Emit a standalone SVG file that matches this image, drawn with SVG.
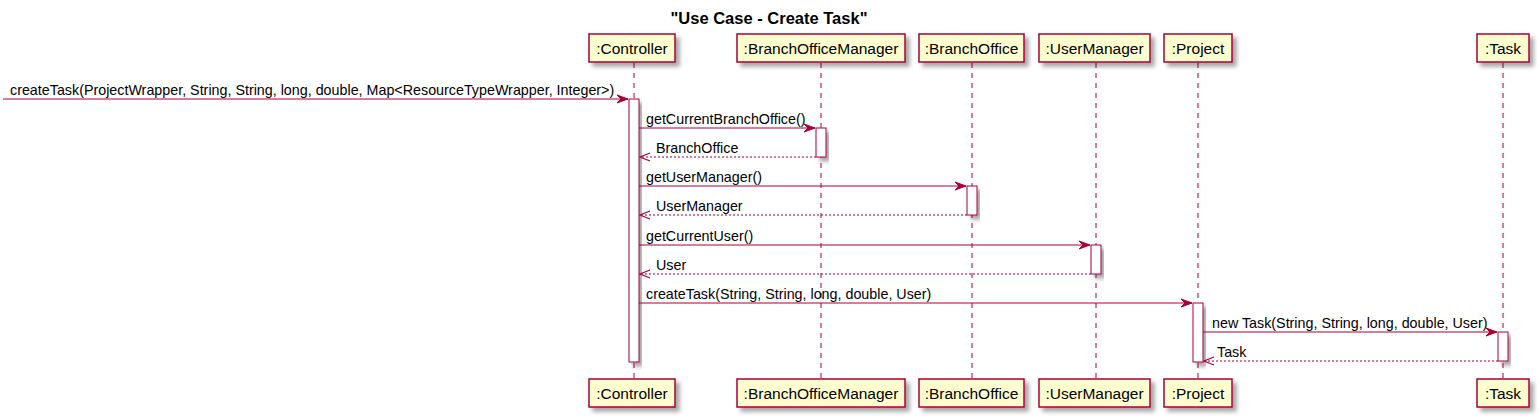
<svg xmlns="http://www.w3.org/2000/svg" width="1540" height="420" viewBox="0 0 1540 420">
<defs>
<filter id="sh" x="-20%" y="-20%" width="150%" height="150%">
<feGaussianBlur in="SourceAlpha" stdDeviation="2"/>
<feOffset dx="4" dy="4" result="b"/>
<feComponentTransfer><feFuncA type="linear" slope="0.35"/></feComponentTransfer>
<feMerge><feMergeNode/><feMergeNode in="SourceGraphic"/></feMerge>
</filter>
<marker id="af" viewBox="0 0 12 10" refX="11" refY="5" markerWidth="12" markerHeight="10" markerUnits="userSpaceOnUse" orient="auto">
<polygon points="0,1 11,5 0,9 4,5" fill="#A80036" stroke="#A80036" stroke-width="1"/>
</marker>
<marker id="ao" viewBox="0 0 12 10" refX="11" refY="5" markerWidth="12" markerHeight="10" markerUnits="userSpaceOnUse" orient="auto">
<polyline points="1,1 11,5 1,9" fill="none" stroke="#A80036" stroke-width="1.2"/>
</marker>
</defs>
<style>
.t{font-family:"Liberation Sans",Arial,sans-serif;font-size:14.3px;fill:#000}
.p{font-family:"Liberation Sans",Arial,sans-serif;font-size:15.5px;fill:#000}
.title{font-family:"Liberation Sans",Arial,sans-serif;font-size:16.5px;font-weight:bold;fill:#000}
.box{fill:#FEFECE;stroke:#A80036;stroke-width:1.5}
.life{stroke:#A80036;stroke-width:1;stroke-dasharray:5,5;fill:none}
.act{fill:#FFFFFF;stroke:#A80036;stroke-width:1}
.msg{stroke:#A80036;stroke-width:1;fill:none;marker-end:url(#af)}
.ret{stroke:#A80036;stroke-width:1;fill:none;stroke-dasharray:2,2;marker-end:url(#ao)}
</style>
<rect width="1540" height="420" fill="#FFFFFF"/>
<text class="title" x="769" y="24" text-anchor="middle">"Use Case - Create Task"</text>

<g id="lifelines">
<line class="life" x1="634" y1="63" x2="634" y2="378"/>
<line class="life" x1="821" y1="63" x2="821" y2="378"/>
<line class="life" x1="972" y1="63" x2="972" y2="378"/>
<line class="life" x1="1096" y1="63" x2="1096" y2="378"/>
<line class="life" x1="1198" y1="63" x2="1198" y2="378"/>
<line class="life" x1="1503" y1="63" x2="1503" y2="378"/>
</g>

<g id="controller">
<rect class="box" x="589" y="34" width="86" height="28" filter="url(#sh)"/>
<text class="p" x="632" y="54" text-anchor="middle">:Controller</text>
<rect class="box" x="589" y="379" width="86" height="28" filter="url(#sh)"/>
<text class="p" x="632" y="399" text-anchor="middle">:Controller</text>
<rect class="act" x="629" y="99" width="10" height="263" filter="url(#sh)"/>
</g>
<g id="branchOfficeManager">
<rect class="box" x="737" y="34" width="168" height="28" filter="url(#sh)"/>
<text class="p" x="821" y="54" text-anchor="middle">:BranchOfficeManager</text>
<rect class="box" x="737" y="379" width="168" height="28" filter="url(#sh)"/>
<text class="p" x="821" y="399" text-anchor="middle">:BranchOfficeManager</text>
<rect class="act" x="816" y="128" width="10" height="29" filter="url(#sh)"/>
</g>
<g id="branchOffice">
<rect class="box" x="919" y="34" width="105" height="28" filter="url(#sh)"/>
<text class="p" x="971.5" y="54" text-anchor="middle">:BranchOffice</text>
<rect class="box" x="919" y="379" width="105" height="28" filter="url(#sh)"/>
<text class="p" x="971.5" y="399" text-anchor="middle">:BranchOffice</text>
<rect class="act" x="967" y="186" width="10" height="29" filter="url(#sh)"/>
</g>
<g id="userManager">
<rect class="box" x="1039" y="34" width="111" height="28" filter="url(#sh)"/>
<text class="p" x="1094.5" y="54" text-anchor="middle">:UserManager</text>
<rect class="box" x="1039" y="379" width="111" height="28" filter="url(#sh)"/>
<text class="p" x="1094.5" y="399" text-anchor="middle">:UserManager</text>
<rect class="act" x="1091" y="245" width="10" height="29" filter="url(#sh)"/>
</g>
<g id="project">
<rect class="box" x="1164" y="34" width="68" height="28" filter="url(#sh)"/>
<text class="p" x="1198" y="54" text-anchor="middle">:Project</text>
<rect class="box" x="1164" y="379" width="68" height="28" filter="url(#sh)"/>
<text class="p" x="1198" y="399" text-anchor="middle">:Project</text>
<rect class="act" x="1193" y="303" width="10" height="59" filter="url(#sh)"/>
</g>
<g id="task">
<rect class="box" x="1477" y="34" width="52" height="28" filter="url(#sh)"/>
<text class="p" x="1503" y="54" text-anchor="middle">:Task</text>
<rect class="box" x="1477" y="379" width="52" height="28" filter="url(#sh)"/>
<text class="p" x="1503" y="399" text-anchor="middle">:Task</text>
<rect class="act" x="1498" y="332" width="10" height="29" filter="url(#sh)"/>
</g>

<g id="connectors">
<line class="msg" x1="3" y1="99" x2="628" y2="99"/>
<text class="t" x="10" y="95">createTask(ProjectWrapper, String, String, long, double, Map&lt;ResourceTypeWrapper, Integer&gt;)</text>
<line class="msg" x1="639" y1="128" x2="815" y2="128"/>
<text class="t" x="646" y="124">getCurrentBranchOffice()</text>
<line class="ret" x1="816" y1="157" x2="640" y2="157"/>
<text class="t" x="656" y="153">BranchOffice</text>
<line class="msg" x1="639" y1="186" x2="966" y2="186"/>
<text class="t" x="646" y="182">getUserManager()</text>
<line class="ret" x1="967" y1="215" x2="640" y2="215"/>
<text class="t" x="656" y="211">UserManager</text>
<line class="msg" x1="639" y1="245" x2="1090" y2="245"/>
<text class="t" x="646" y="241">getCurrentUser()</text>
<line class="ret" x1="1091" y1="274" x2="640" y2="274"/>
<text class="t" x="656" y="270">User</text>
<line class="msg" x1="639" y1="303" x2="1192" y2="303"/>
<text class="t" x="646" y="299">createTask(String, String, long, double, User)</text>
<line class="msg" x1="1203" y1="332" x2="1497" y2="332"/>
<text class="t" x="1212" y="328">new Task(String, String, long, double, User)</text>
<line class="ret" x1="1498" y1="361" x2="1204" y2="361"/>
<text class="t" x="1217" y="357">Task</text>
</g>
</svg>
